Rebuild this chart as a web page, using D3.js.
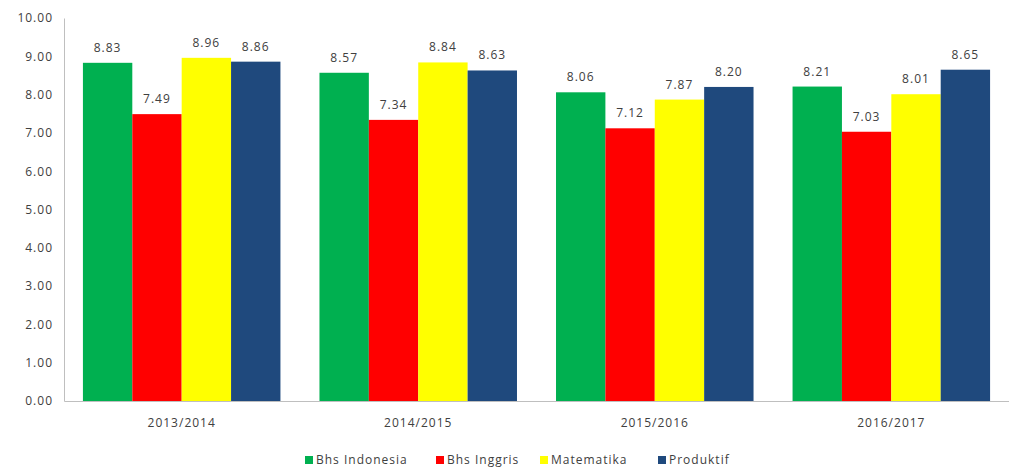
<!DOCTYPE html>
<html>
<head>
<meta charset="utf-8">
<script src="https://cdn.jsdelivr.net/npm/d3@7"></script>
<style>
  body { margin: 0; background: #fff; }
  svg text { font-family: "Open Sans", "Liberation Sans", sans-serif; fill: #404040; letter-spacing: 1px; }
</style>
</head>
<body>
<div id="chart"></div>
<script>
const years = ["2013/2014", "2014/2015", "2015/2016", "2016/2017"];
const subjects = ["Bhs Indonesia", "Bhs Inggris", "Matematika", "Produktif"];
const bhsIndonesia = [8.83, 8.57, 8.06, 8.21];
const bhsInggris = [7.49, 7.34, 7.12, 7.03];
const matematika = [8.96, 8.84, 7.87, 8.01];
const produktif = [8.86, 8.63, 8.20, 8.65];
const colors = ["#00B050", "#FF0000", "#FFFF00", "#1F497D"];
const yTicks = [0, 1, 2, 3, 4, 5, 6, 7, 8, 9, 10];

const series = [bhsIndonesia, bhsInggris, matematika, produktif];

const W = 1009, H = 468;
const margin = { top: 18, right: 0, bottom: 67, left: 64 };

const svg = d3.select("#chart").append("svg")
  .attr("width", W).attr("height", H);

const x0 = d3.scaleBand().domain(years)
  .range([margin.left, W - margin.right]).paddingInner(0.165).paddingOuter(0.08);
const x1 = d3.scaleBand().domain(subjects).range([0, x0.bandwidth()]);
const y = d3.scaleLinear().domain([0, 10]).range([H - margin.bottom, margin.top]);

// y axis
const yAxis = svg.append("g")
  .attr("transform", `translate(${margin.left},0)`)
  .call(d3.axisLeft(y).tickValues(yTicks).tickFormat(d3.format(".2f")).tickSize(0).tickPadding(11));
yAxis.select(".domain").attr("stroke", "#bfbfbf");
yAxis.selectAll("text").style("font-size", "12px");

// bars
const groups = svg.append("g").selectAll("g")
  .data(years)
  .join("g")
  .attr("transform", d => `translate(${x0(d)},0)`);

const cells = (yr, i) => subjects.map((s, j) => ({ s, j, v: series[j][i] }));

groups.selectAll("rect")
  .data(cells)
  .join("rect")
  .attr("x", d => x1(d.s))
  .attr("y", d => y(d.v))
  .attr("width", x1.bandwidth())
  .attr("height", d => y(0) - y(d.v))
  .attr("fill", d => colors[d.j]);

groups.selectAll("text.val")
  .data(cells)
  .join("text")
  .attr("class", "val")
  .attr("x", d => x1(d.s) + x1.bandwidth() / 2)
  .attr("y", d => y(d.v) - 11)
  .attr("text-anchor", "middle")
  .style("font-size", "12px")
  .text(d => d.v.toFixed(2));

// x axis
const xAxis = svg.append("g")
  .attr("transform", `translate(0,${y(0)})`)
  .call(d3.axisBottom(x0).tickSize(0).tickPadding(17));
xAxis.select(".domain").attr("stroke", "#bfbfbf");
xAxis.selectAll("text").style("font-size", "12px");

// legend
const legendX = [305, 436, 540, 658];
const legend = svg.append("g").selectAll("g")
  .data(subjects)
  .join("g")
  .attr("transform", (d, i) => `translate(${legendX[i]},${H - 8})`);
legend.append("rect")
  .attr("x", 0).attr("y", -4).attr("width", 8).attr("height", 8)
  .attr("fill", (d, i) => colors[i]);
legend.append("text")
  .attr("x", 11).attr("y", 0).attr("dy", "0.35em")
  .style("font-size", "12px")
  .text(d => d);
</script>
</body>
</html>
